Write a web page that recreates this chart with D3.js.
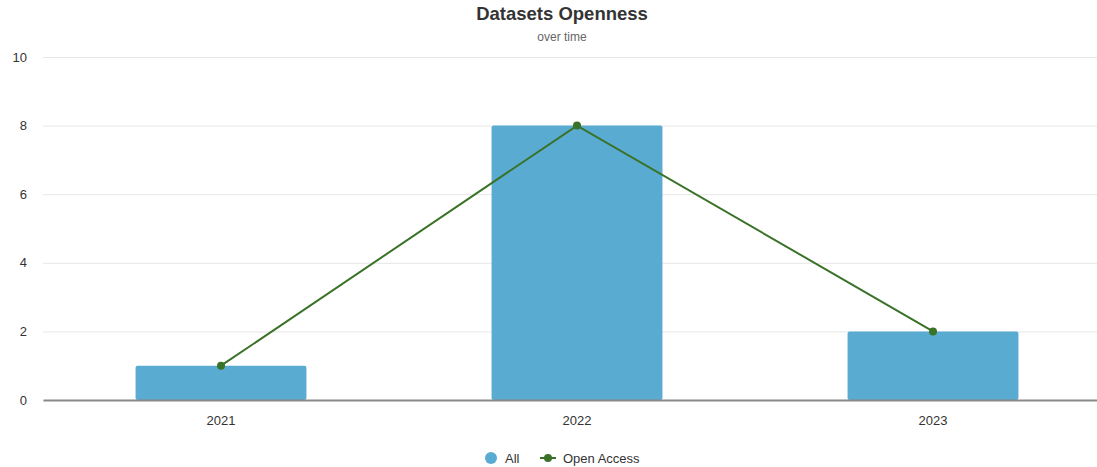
<!DOCTYPE html>
<html><head><meta charset="utf-8">
<script src="https://cdn.jsdelivr.net/npm/d3@7"></script>
<style>body{margin:0;background:#fff;font-family:"Liberation Sans",Arial,sans-serif;}</style>
</head><body>
<svg id="c" width="1097" height="467"></svg>
<script>
const categories = ["2021","2022","2023"];
const allValues = [1, 8, 2];
const openAccess = [1, 8, 2];
const yTicks = [0, 2, 4, 6, 8, 10];
const titleText = "Datasets Openness";
const subtitleText = "over time";
const legendLabels = ["All", "Open Access"];

(function(){
const svg = d3.select("#c");
const pL = 43, pR = 1111, pT = 57, pB = 400;
const x = d3.scaleBand().domain(categories).range([pL, pR]).paddingInner(0.52).paddingOuter(0.26);
const y = d3.scaleLinear().domain([0, 10]).range([pB, pT]);
const barColor = "#5aabd1", lineColor = "#3a7228";

svg.append("text").attr("x", 562).attr("y", 20).attr("text-anchor","middle")
  .attr("font-size", 18.5).attr("font-weight","bold").attr("fill","#333").text(titleText);
svg.append("text").attr("x", 562).attr("y", 41).attr("text-anchor","middle")
  .attr("font-size", 12).attr("fill","#666").text(subtitleText);

const yAxis = d3.axisLeft(y).tickValues(yTicks).tickSize(-(pR-pL)).tickPadding(16);
const gy = svg.append("g").attr("transform", `translate(${pL},0)`).call(yAxis);
gy.select(".domain").remove();
gy.selectAll(".tick line").attr("stroke","#e6e6e6");
gy.selectAll(".tick text").attr("font-size",13).attr("fill","#333").attr("font-family","Liberation Sans, Arial, sans-serif");

svg.append("g").selectAll("rect").data(categories).join("rect")
  .attr("x", d => x(d)).attr("width", x.bandwidth())
  .attr("y", (d,i) => y(allValues[i])).attr("height", (d,i) => y(0) - y(allValues[i]))
  .attr("rx", 2).attr("fill", barColor);

const xAxis = d3.axisBottom(x).tickSize(0).tickPadding(16);
const gx = svg.append("g").attr("transform", `translate(0,${pB})`).call(xAxis);
gx.select(".domain").attr("stroke","#888").attr("stroke-width",2);
gx.selectAll(".tick text").attr("font-size",13).attr("fill","#333").attr("font-family","Liberation Sans, Arial, sans-serif");

const line = d3.line().x((d,i) => x(categories[i]) + x.bandwidth()/2).y(d => y(d));
svg.append("path").datum(openAccess).attr("d", line).attr("fill","none")
  .attr("stroke", lineColor).attr("stroke-width", 2);
svg.append("g").selectAll("circle").data(openAccess).join("circle")
  .attr("cx", (d,i) => x(categories[i]) + x.bandwidth()/2).attr("cy", d => y(d))
  .attr("r", 4).attr("fill", lineColor);

const lg = svg.append("g");
lg.append("circle").attr("cx", 491).attr("cy", 458).attr("r", 6).attr("fill", barColor);
lg.append("text").attr("x", 505).attr("y", 463).attr("font-size",13).attr("fill","#333").text(legendLabels[0]);
lg.append("line").attr("x1", 540).attr("x2", 556).attr("y1", 458).attr("y2", 458).attr("stroke", lineColor).attr("stroke-width",2);
lg.append("circle").attr("cx", 548).attr("cy", 458).attr("r", 4).attr("fill", lineColor);
lg.append("text").attr("x", 563).attr("y", 463).attr("font-size",13).attr("fill","#333").text(legendLabels[1]);
})();
</script>
</body></html>
